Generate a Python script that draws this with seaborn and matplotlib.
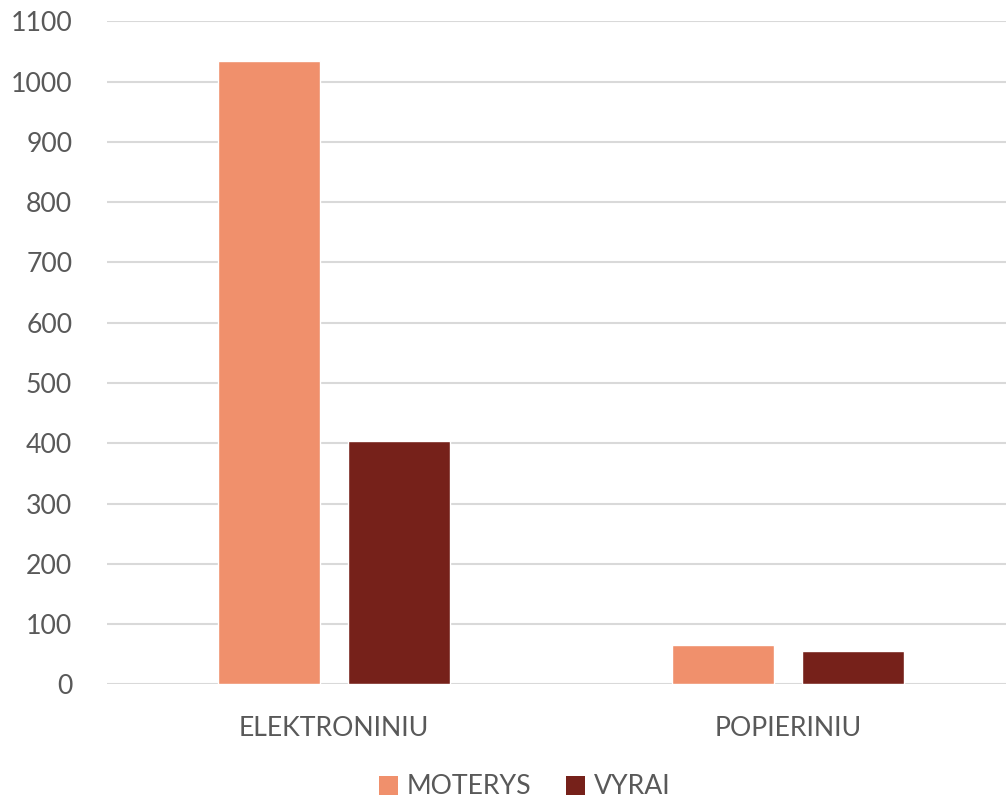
import matplotlib
matplotlib.use("Agg")
import matplotlib.pyplot as plt
import pandas as pd
import seaborn as sns
from matplotlib.patches import Patch

categories = ["ELEKTRONINIU", "POPIERINIU"]
series = ["MOTERYS", "VYRAI"]
moterys = [1034, 65]
vyrai = [404, 56]
colors = ["#F0906C", "#76211A"]
yticks = list(range(0, 1101, 100))

df = pd.DataFrame({
    "kategorija": categories * 2,
    "grupe": [series[0]] * 2 + [series[1]] * 2,
    "kiekis": moterys + vyrai,
})

sns.set_style("white")
plt.rcParams["font.family"] = ["Lato", "DejaVu Sans"]
text_color = "#595959"
fs = 19.2

fig = plt.figure(figsize=(10.06, 8.01), dpi=100)
ax = fig.add_axes([107 / 1006, 1 - 684.3 / 801, (1006 - 107) / 1006, (684.3 - 21.4) / 801])

sns.barplot(data=df, x="kategorija", y="kiekis", hue="grupe", palette=colors,
            saturation=1, width=0.572, gap=0.215, ax=ax, legend=False, zorder=3)

ax.set_xlim(-0.5, 1.479)
ax.set_ylim(0, 1100)
ax.set_yticks(yticks)
ax.grid(axis="y", color="#D9D9D9", linewidth=1.5, zorder=0)
ax.set_axisbelow(True)
for s in ax.spines.values():
    s.set_visible(False)
ax.tick_params(axis="both", length=0, labelsize=fs, colors=text_color)
ax.tick_params(axis="y", pad=25)
ax.tick_params(axis="x", pad=23)
ax.set_xlabel("")
ax.set_ylabel("")

handles = [Patch(facecolor=c, edgecolor="none") for c in colors]
fig.legend(handles, series, loc="center", bbox_to_anchor=(525 / 1006, 1 - 787 / 801),
           ncol=2, frameon=False, fontsize=fs, labelcolor=text_color,
           handlelength=0.7, handleheight=0.7, handletextpad=0.35, columnspacing=1.3)

fig.savefig("out.png", dpi=100)
